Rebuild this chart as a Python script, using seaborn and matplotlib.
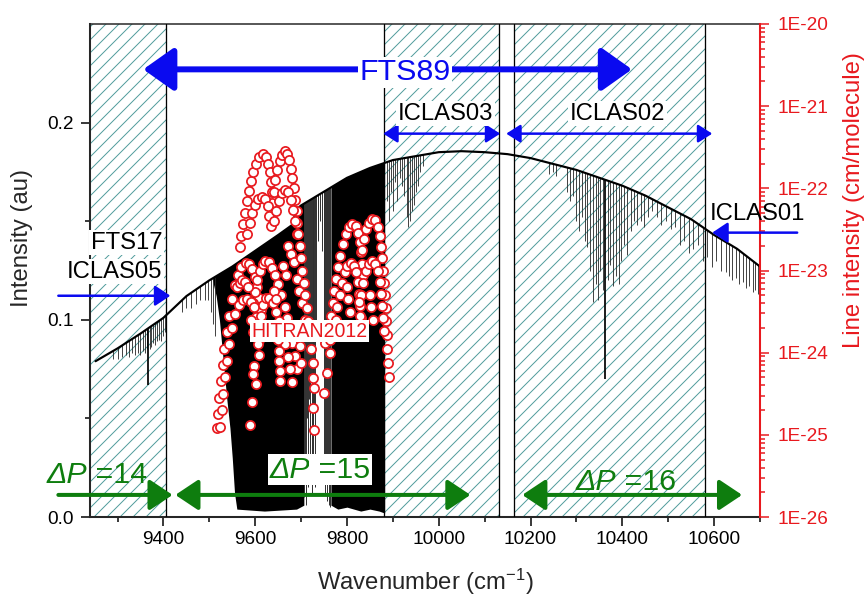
import numpy as np
import pandas as pd
import matplotlib
matplotlib.use("Agg")
import matplotlib.pyplot as plt
import seaborn as sns
from matplotlib.ticker import MultipleLocator, FixedLocator, FuncFormatter, NullFormatter

# ---------------- data ----------------
# upper envelope of the recorded spectrum (left axis, au)
env_wn = [9252, 9300, 9350, 9400, 9450, 9500, 9550, 9600, 9650, 9680, 9690, 9700,
          9750, 9800, 9850, 9900, 9950, 10000, 10050, 10100, 10150, 10200, 10250,
          10300, 10350, 10400, 10450, 10500, 10550, 10600, 10650, 10700]
env_int = [0.079, 0.0855, 0.093, 0.101, 0.112, 0.120, 0.127, 0.135, 0.143, 0.148, 0.156, 0.158,
           0.165, 0.172, 0.177, 0.181, 0.183, 0.185, 0.1855, 0.185, 0.184, 0.182, 0.179,
           0.176, 0.172, 0.168, 0.163, 0.157, 0.151, 0.143, 0.136, 0.127]

# saturated absorption (black) zones: lower edge of the black area
dense1_wn = [9505, 9515, 9522, 9530, 9538, 9545, 9550, 9555, 9560, 9620, 9690, 9706]
dense1_floor = [0.122, 0.112, 0.100, 0.080, 0.060, 0.045, 0.030, 0.012, 0.004, 0.003, 0.004, 0.006]
dense2_wn = [9765, 9780, 9800, 9830, 9850, 9870, 9882]
dense2_floor = [0.006, 0.004, 0.005, 0.003, 0.004, 0.003, 0.002]

# partly resolved lines between the two black zones
gap_wn = [9707, 9709, 9711, 9713, 9715, 9717, 9719, 9721, 9723, 9725, 9727, 9729, 9731, 9733,
          9737, 9741, 9745, 9749, 9751, 9753, 9755, 9757, 9759, 9761, 9763]
gap_bottom = [0.010, 0.030, 0.006, 0.050, 0.015, 0.060, 0.020, 0.070, 0.012, 0.040, 0.025, 0.055,
              0.015, 0.090, 0.140, 0.150, 0.135, 0.100, 0.030, 0.012, 0.025, 0.008, 0.018, 0.006, 0.005]

# isolated absorption lines (bottom of each line, au)
line_wn = [9290, 9300, 9310, 9318, 9325, 9332, 9338, 9344, 9350, 9355, 9360, 9364, 9370,
           9374, 9378, 9382, 9386, 9390, 9394, 9398, 9403,
           9440, 9450, 9460, 9470, 9480, 9490, 9498, 9503, 9508, 9512,
           9888, 9892, 9896, 9900, 9905, 9910, 9915, 9920, 9925, 9930, 9934, 9938,
           9942, 9946, 9950, 9955, 9960, 9966,
           10240, 10248, 10255, 10280, 10287, 10293, 10300, 10306, 10312, 10318, 10324,
           10330, 10337, 10342, 10346, 10352, 10357, 10368, 10374, 10380, 10386, 10392,
           10398, 10404, 10411, 10418, 10425, 10433, 10440, 10448, 10455, 10465, 10475,
           10485, 10495, 10505, 10515, 10526, 10535, 10545, 10555, 10565, 10575, 10585,
           10595, 10605, 10615, 10625, 10632, 10640, 10647, 10655, 10662, 10670, 10677,
           10684, 10690, 10696]
line_bottom = [0.080, 0.080, 0.081, 0.082, 0.081, 0.083, 0.082, 0.083, 0.082, 0.084, 0.083, 0.085, 0.085,
               0.086, 0.088, 0.087, 0.089, 0.090, 0.089, 0.092, 0.094,
               0.104, 0.106, 0.106, 0.108, 0.110, 0.110, 0.110, 0.104, 0.098, 0.092,
               0.160, 0.150, 0.165, 0.155, 0.170, 0.160, 0.172, 0.168, 0.163, 0.152, 0.147, 0.150,
               0.155, 0.158, 0.165, 0.168, 0.175, 0.178,
               0.174, 0.175, 0.173, 0.165, 0.160, 0.163, 0.150, 0.145, 0.152, 0.140, 0.137,
               0.125, 0.109, 0.118, 0.110, 0.125, 0.115, 0.120, 0.128, 0.117, 0.122, 0.118,
               0.130, 0.138, 0.133, 0.145, 0.150, 0.148, 0.150, 0.147, 0.152, 0.155, 0.152,
               0.148, 0.150, 0.146, 0.147, 0.138, 0.140, 0.134, 0.136, 0.138, 0.130, 0.132,
               0.127, 0.130, 0.125, 0.124, 0.122, 0.120, 0.121, 0.118, 0.119, 0.116, 0.117,
               0.114, 0.115, 0.113]
deep_wn = [9367, 10363]
deep_bottom = [0.067, 0.070]

# HITRAN2012 line intensities (right axis, log10 of cm/molecule), branch by branch
t1_wn = [9566, 9570, 9574, 9578, 9582, 9586, 9590, 9595, 9601, 9608, 9616, 9623, 9628, 9632, 9635, 9637]
t1_ls = [-22.72, -22.58, -22.44, -22.30, -22.16, -22.03, -21.91, -21.80, -21.70, -21.62, -21.58,
         -21.62, -21.70, -21.80, -21.92, -22.04]
t2_wn = [9636, 9640, 9644, 9648, 9653, 9658, 9664, 9670, 9674, 9678, 9681, 9684, 9687, 9690, 9692]
t2_ls = [-22.18, -22.04, -21.90, -21.78, -21.67, -21.59, -21.55, -21.58, -21.66, -21.76, -21.88,
         -22.00, -22.14, -22.28, -22.42]
t3_wn = [9583, 9588, 9594, 9600, 9607, 9614, 9621, 9627, 9631, 9634]
t3_ls = [-22.55, -22.42, -22.30, -22.20, -22.13, -22.10, -22.13, -22.22, -22.34, -22.46]
t4_wn = [9640, 9645, 9651, 9658, 9665, 9672, 9678, 9683, 9687, 9690]
t4_ls = [-22.40, -22.27, -22.15, -22.06, -22.02, -22.05, -22.14, -22.26, -22.40, -22.55]
l1_wn = [9516, 9518, 9521, 9525, 9529, 9533, 9538, 9543, 9549, 9555, 9562, 9570, 9579, 9587,
         9594, 9600, 9605, 9609, 9613]
l1_ls = [-24.92, -24.75, -24.55, -24.35, -24.15, -23.95, -23.75, -23.55, -23.35, -23.18, -23.05,
         -22.96, -22.91, -22.92, -22.98, -23.08, -23.20, -23.34, -23.48]
l2_wn = [9596, 9600, 9605, 9610, 9616, 9622, 9629, 9636, 9643, 9650, 9657, 9664, 9670, 9676,
         9681, 9686, 9690]
l2_ls = [-23.40, -23.26, -23.12, -23.00, -22.92, -22.88, -22.90, -22.97, -23.06, -23.17, -23.30,
         -23.44, -23.58, -23.73, -23.88, -24.04, -24.20]
l3_wn = [9524, 9527, 9530, 9534, 9538, 9543, 9549, 9556, 9564, 9573, 9582, 9590, 9597, 9602, 9606, 9609]
l3_ls = [-24.90, -24.70, -24.50, -24.30, -24.10, -23.90, -23.70, -23.53, -23.42, -23.36, -23.35,
         -23.38, -23.45, -23.56, -23.70, -23.85]
l4_wn = [9612, 9618, 9624, 9631, 9638, 9645, 9652, 9659, 9665, 9671, 9676, 9680]
l4_ls = [-23.55, -23.42, -23.34, -23.34, -23.40, -23.50, -23.62, -23.76, -23.90, -24.05, -24.20, -24.36]
l5_wn = [9560, 9566, 9572, 9578, 9584, 9590, 9596, 9640, 9646, 9660, 9668, 9672, 9678, 9684,
         9690, 9696, 9702, 9708]
l5_ls = [-23.20, -23.15, -23.12, -23.14, -23.20, -23.60, -23.75, -23.25, -23.35, -22.95, -23.05,
         -22.70, -22.80, -22.90, -23.10, -23.25, -23.40, -23.60]
col_wn = [9606, 9608, 9598, 9596, 9601, 9594, 9588, 9650, 9651, 9652, 9653, 9654, 9697, 9699]
col_ls = [-23.90, -24.03, -24.16, -24.26, -24.38, -24.60, -24.88, -23.85, -23.98, -24.10, -24.22,
          -24.34, -23.92, -24.12]
m1_wn = [9694, 9697, 9700, 9703, 9706, 9709, 9712, 9715, 9718, 9721, 9725, 9727, 9729, 9727,
         9729, 9749, 9757, 9764, 9753]
m1_ls = [-22.56, -22.70, -22.85, -23.00, -23.15, -23.30, -23.46, -23.62, -23.78, -23.95, -24.12,
         -24.31, -24.43, -24.67, -24.94, -24.49, -24.25, -24.00, -23.88]
r1_wn = [9762, 9764, 9766, 9769, 9772, 9776, 9780, 9785, 9791, 9797, 9804, 9812, 9819, 9824,
         9828, 9831, 9833, 9835]
r1_ls = [-23.85, -23.70, -23.55, -23.40, -23.25, -23.10, -22.96, -22.82, -22.68, -22.56, -22.47,
         -22.43, -22.46, -22.54, -22.65, -22.78, -22.92, -23.06]
r2_wn = [9833, 9837, 9842, 9848, 9855, 9862, 9867, 9871, 9874, 9877, 9879, 9881, 9883, 9884,
         9886, 9887, 9888, 9890, 9891]
r2_ls = [-22.75, -22.62, -22.50, -22.42, -22.37, -22.39, -22.47, -22.58, -22.71, -22.85, -23.00,
         -23.15, -23.30, -23.46, -23.62, -23.78, -23.95, -24.12, -24.30]
r3_wn = [9775, 9779, 9784, 9789, 9795, 9801, 9808, 9815, 9820, 9824, 9827, 9829, 9831]
r3_ls = [-23.60, -23.45, -23.30, -23.15, -23.02, -22.94, -22.91, -22.94, -23.02, -23.14, -23.28,
         -23.43, -23.58]
r4_wn = [9830, 9835, 9841, 9848, 9855, 9862, 9867, 9871, 9874, 9876, 9878, 9880]
r4_ls = [-23.30, -23.15, -23.01, -22.92, -22.88, -22.92, -23.01, -23.14, -23.28, -23.43, -23.58, -23.74]
r5_wn = [9800, 9803, 9806, 9826, 9829, 9850, 9853, 9856]
r5_ls = [-23.20, -23.35, -23.50, -23.38, -23.55, -23.30, -23.45, -23.60]

# right axis decades
decades = [-26, -25, -24, -23, -22, -21, -20]

# spectral windows of the different recordings (hatched)
hatch_spans = [(9240, 9405), (9880, 10132), (10165, 10581)]
hatch_edges = [9405, 9880, 10132, 10165, 10581]

# ---------------- style ----------------
RED = "#e8191e"
BLUE = "#0a0af0"
GREEN = "#0e7d0e"
HATCH = "#4f9b9b"

sns.set_theme(style="ticks")
plt.rcParams["font.family"] = ["Liberation Sans", "DejaVu Sans"]
plt.rcParams["mathtext.fontset"] = "custom"
plt.rcParams["mathtext.rm"] = "Liberation Sans"
plt.rcParams["mathtext.it"] = "Liberation Sans:italic"
plt.rcParams["hatch.linewidth"] = 0.9
plt.rcParams["hatch.color"] = HATCH

DPI = 78
fig = plt.figure(figsize=(867 / DPI, 596 / DPI), dpi=DPI)
ax = fig.add_axes([90 / 867, 79 / 596, 670 / 867, 493 / 596])

# hatched windows
for a, b in hatch_spans:
    ax.axvspan(a, b, facecolor="none", edgecolor=HATCH, hatch="//", linewidth=0, zorder=0)
for x in hatch_edges:
    ax.axvline(x, color="black", lw=1.2, zorder=3)

# area below the envelope, used to clip the absorption lines
under = ax.fill_between(env_wn, 0, env_int, facecolor="none", edgecolor="none", lw=0)
clip = under.get_paths()[0]

for wn, fl in [(dense1_wn, dense1_floor), (dense2_wn, dense2_floor)]:
    pc = ax.fill_between(wn, fl, 0.25, color="black", lw=0, zorder=2)
    pc.set_clip_path(clip, ax.transData)

for wn, bot, c, w in [(gap_wn, gap_bottom, "#303030", 0.9),
                      (line_wn, line_bottom, "#2a2a2a", 0.8),
                      (deep_wn, deep_bottom, "black", 1.6)]:
    lc = ax.vlines(wn, bot, 0.25, colors=c, lw=w, zorder=2)
    lc.set_clip_path(clip, ax.transData)

env_df = pd.DataFrame({"wn": env_wn, "intensity": env_int})
sns.lineplot(data=env_df, x="wn", y="intensity", ax=ax, color="black", linewidth=2, zorder=4)

ax.set_xlim(9240, 10700)
ax.set_ylim(0, 0.25)
ax.xaxis.set_major_locator(MultipleLocator(200))
ax.xaxis.set_minor_locator(MultipleLocator(100))
ax.yaxis.set_major_locator(FixedLocator([0.0, 0.1, 0.2]))
ax.yaxis.set_minor_locator(FixedLocator([0.05, 0.15]))
ax.yaxis.set_major_formatter(FuncFormatter(lambda v, p: f"{v:.1f}"))
ax.tick_params(which="both", direction="out", width=1.4, colors="black", labelsize=17.5,
               top=False, right=False)
ax.tick_params(which="major", length=8.3)
ax.tick_params(which="minor", length=4.6)
ax.tick_params(axis="x", pad=5)
ax.tick_params(axis="y", pad=7)
for s in ["left", "bottom"]:
    ax.spines[s].set_linewidth(1.9)
ax.spines["top"].set_linewidth(1.4)
ax.spines["right"].set_visible(False)
ax.set_xlabel(r"Wavenumber (cm$^{\mathregular{-1}}$)", fontsize=22)
ax.set_ylabel("Intensity (au)", fontsize=22)
ax.xaxis.set_label_coords(0.5, -0.102)
ax.yaxis.set_label_coords(-0.085, 0.566)

# right axis: HITRAN line intensities
ax2 = ax.twinx()
hit_wn = (t1_wn + t2_wn + t3_wn + t4_wn + l1_wn + l2_wn + l3_wn + l4_wn + l5_wn + col_wn + m1_wn
          + r1_wn + r2_wn + r3_wn + r4_wn + r5_wn)
hit_ls = (t1_ls + t2_ls + t3_ls + t4_ls + l1_ls + l2_ls + l3_ls + l4_ls + l5_ls + col_ls + m1_ls
          + r1_ls + r2_ls + r3_ls + r4_ls + r5_ls)
hit_df = pd.DataFrame({"wn": hit_wn, "S": 10.0 ** np.array(hit_ls)})
sns.scatterplot(data=hit_df, x="wn", y="S", ax=ax2, marker="o", color="white",
                edgecolor=RED, linewidth=1.6, s=72, zorder=5)
ax2.set_yscale("log")
ax2.set_ylim(1e-26, 1e-20)
ax2.set_xlim(9240, 10700)
major_s = [10.0 ** d for d in decades]
minor_s = [k * 10.0 ** d for d in decades[:-1] for k in range(2, 10)]
ax2.yaxis.set_major_locator(FixedLocator(major_s))
ax2.yaxis.set_minor_locator(FixedLocator(minor_s))
ax2.yaxis.set_major_formatter(FuncFormatter(lambda v, p: f"1E{int(round(np.log10(v)))}"))
ax2.yaxis.set_minor_formatter(NullFormatter())
ax2.tick_params(axis="y", which="both", direction="out", colors=RED, width=1.4,
                labelsize=17.5, pad=8)
ax2.tick_params(axis="y", which="major", length=8.3)
ax2.tick_params(axis="y", which="minor", length=4.6)
for s in ["left", "top", "bottom"]:
    ax2.spines[s].set_visible(False)
ax2.spines["right"].set_color(RED)
ax2.spines["right"].set_linewidth(1.9)
ax2.set_xlabel("")
ax2.set_ylabel("Line intensity (cm/molecule)", color=RED, fontsize=22)
ax2.yaxis.set_label_coords(1.124, 0.643)


# ---------------- annotations ----------------
def arrow(x0, x1, y, color, lw, hl, hw, style):
    ax2.annotate("", xy=(x1, y), xytext=(x0, y), xycoords=ax.transData, textcoords=ax.transData,
                 arrowprops=dict(arrowstyle=f"{style},head_length={hl},head_width={hw}",
                                 color=color, lw=lw, shrinkA=0, shrinkB=0, mutation_scale=1),
                 annotation_clip=False, zorder=6)


def label(x, y, s, color, size, ha="center", box=True, **kw):
    bb = dict(facecolor="white", edgecolor="none", pad=1.5) if box else None
    ax2.text(x, y, s, color=color, fontsize=size, ha=ha, va="baseline", transform=ax.transData,
             bbox=bb, zorder=8, clip_on=False, **kw)


arrow(9356, 10421, 0.227, BLUE, 5.5, 24, 17, "<|-|>")
label(9927, 0.2215, "FTS89", BLUE, 28)

arrow(9879, 10134, 0.1944, BLUE, 2.3, 11, 7, "<|-|>")
arrow(10147, 10596, 0.1944, BLUE, 2.3, 11, 7, "<|-|>")
label(10014, 0.2015, "ICLAS03", "black", 22)
label(10389, 0.2015, "ICLAS02", "black", 22)

arrow(9171, 9415, 0.1122, BLUE, 2.3, 12, 8, "-|>")
label(9398, 0.1360, "FTS17", "black", 22, ha="right")
label(9398, 0.1213, "ICLAS05", "black", 22, ha="right")

arrow(10781, 10596, 0.1442, BLUE, 2.3, 12, 8, "-|>")
label(10591, 0.1508, "ICLAS01", "black", 22, ha="left", box=False)

label(9718, 0.0914, "HITRAN2012", RED, 18)

arrow(9171, 9420, 0.0112, GREEN, 3.7, 18, 12, "-|>")
arrow(9426, 10069, 0.0112, GREEN, 3.7, 18, 12, "<|-|>")
arrow(10182, 10661, 0.0112, GREEN, 3.7, 18, 12, "<|-|>")
for xs, y, num, box in [(9234, 0.0173, "14", False), (9720, 0.0198, "15", True),
                        (10387, 0.0137, "16", False)]:
    label(xs, y, "\u0394P", GREEN, 28, ha="right", box=box, style="italic")
    label(xs, y, " =" + num, GREEN, 28, ha="left", box=box)

fig.savefig("out.png", dpi=DPI, facecolor="white")
